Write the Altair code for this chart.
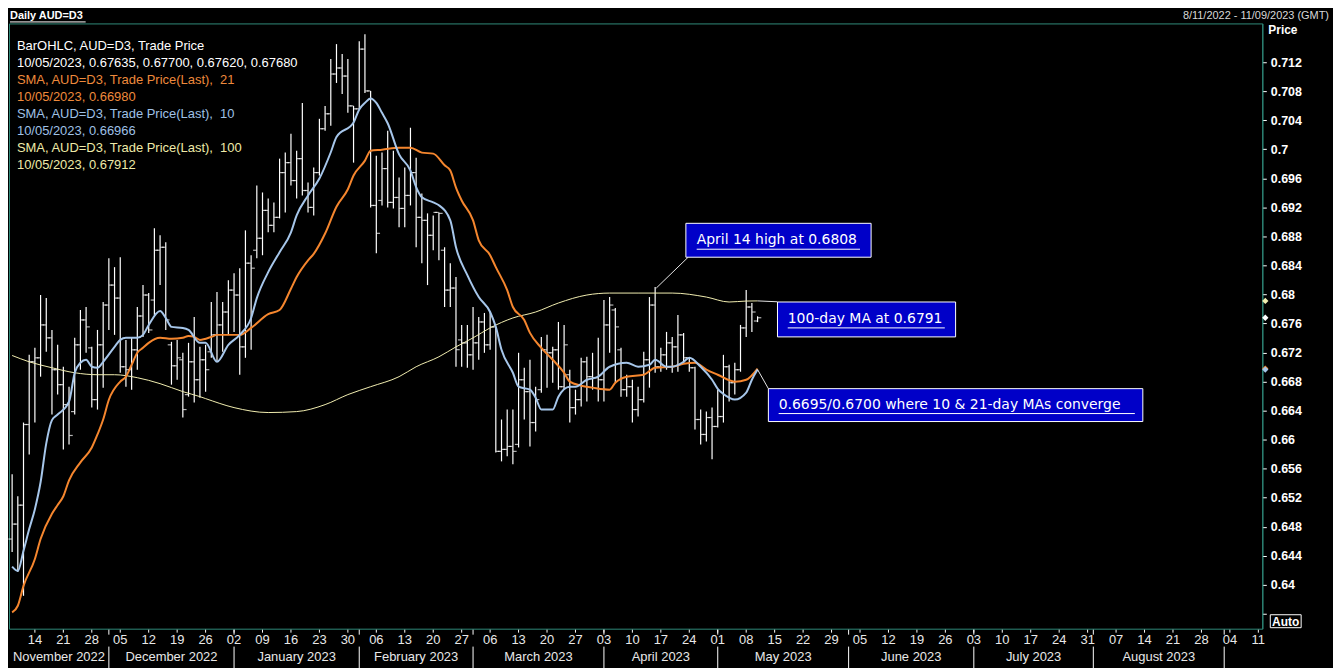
import altair as alt
import pandas as pd

# ---------------- data ----------------
FIRST_BAR_DAY = "2022-11-08"
LAST_AXIS_DAY = "2023-09-11"

bar_open = [0.64631, 0.64837, 0.65098, 0.66209, 0.67073, 0.67128, 0.67581, 0.67403, 0.66964, 0.66758,
            0.66483, 0.66387, 0.67307, 0.67650, 0.67265, 0.66552, 0.67307, 0.67855, 0.68130, 0.67951,
            0.67005, 0.66964, 0.67238, 0.67704, 0.67993, 0.67924, 0.68610, 0.68651, 0.67307, 0.67018,
            0.67101, 0.66621, 0.67073, 0.66826, 0.67101, 0.67211, 0.67444, 0.67581, 0.67759, 0.68061,
            0.67993, 0.67279, 0.68432, 0.68610, 0.68775, 0.69159, 0.68953, 0.69063, 0.69680, 0.69817,
            0.69570, 0.69872, 0.69433, 0.69200, 0.69680, 0.70284, 0.70490, 0.71038, 0.71121, 0.71010,
            0.70599, 0.70558, 0.71381, 0.70805, 0.69227, 0.69296, 0.69735, 0.69269, 0.69337, 0.69186,
            0.69365, 0.69680, 0.69063, 0.69022, 0.68816, 0.69131, 0.68610, 0.68061, 0.68089, 0.67375,
            0.67334, 0.67169, 0.67334, 0.67622, 0.67307, 0.67554, 0.65839, 0.65866, 0.65907, 0.65935,
            0.66826, 0.66662, 0.66236, 0.66689, 0.67238, 0.67197, 0.67238, 0.66730, 0.66895, 0.66442,
            0.66552, 0.67073, 0.66868, 0.66854, 0.66826, 0.67581, 0.67787, 0.67238, 0.66689, 0.66730,
            0.66415, 0.66552, 0.67101, 0.67855, 0.67005, 0.67169, 0.67334, 0.67279, 0.67444, 0.67128,
            0.66991, 0.66278, 0.66072, 0.66305, 0.66182, 0.66319, 0.67005, 0.66785, 0.66964, 0.67540,
            0.67828, 0.67635]
bar_high = [0.65523, 0.65221, 0.66236, 0.67169, 0.67265, 0.67993, 0.67951, 0.67512, 0.67307, 0.67005,
            0.66730, 0.67403, 0.67787, 0.67828, 0.67279, 0.67512, 0.67897, 0.68500, 0.68377, 0.68514,
            0.67375, 0.67416, 0.67828, 0.68130, 0.68020, 0.68912, 0.68816, 0.68720, 0.67348, 0.67375,
            0.67197, 0.67334, 0.67691, 0.67279, 0.67307, 0.67897, 0.68034, 0.67897, 0.68198, 0.68294,
            0.68363, 0.68884, 0.68541, 0.69502, 0.69406, 0.69323, 0.69269, 0.69872, 0.69955, 0.70215,
            0.69982, 0.70640, 0.69543, 0.69749, 0.70421, 0.70599, 0.71244, 0.71450, 0.71313, 0.71244,
            0.70599, 0.71491, 0.71587, 0.70805, 0.69913, 0.69955, 0.70256, 0.69982, 0.69612, 0.69749,
            0.70298, 0.69886, 0.69392, 0.69118, 0.69090, 0.69131, 0.68651, 0.68432, 0.68240, 0.67581,
            0.67581, 0.67828, 0.67691, 0.67746, 0.67759, 0.67554, 0.66278, 0.66415, 0.66415, 0.67197,
            0.66991, 0.67101, 0.66730, 0.67416, 0.67444, 0.67279, 0.67622, 0.67581, 0.66964, 0.66689,
            0.67128, 0.67142, 0.67197, 0.67403, 0.67924, 0.67965, 0.67814, 0.67265, 0.66895, 0.66826,
            0.66730, 0.67211, 0.67965, 0.68102, 0.67265, 0.67485, 0.67416, 0.67718, 0.67471, 0.67128,
            0.67005, 0.66415, 0.66387, 0.66442, 0.66689, 0.67169, 0.67032, 0.67060, 0.67581, 0.68061,
            0.67883, 0.67700]
bar_low = [0.64453, 0.64178, 0.63849, 0.65797, 0.66236, 0.66868, 0.67211, 0.66346, 0.66621, 0.65866,
           0.65935, 0.66346, 0.66964, 0.67197, 0.66442, 0.66415, 0.66717, 0.67512, 0.67444, 0.66922,
           0.66730, 0.66689, 0.66964, 0.67416, 0.67471, 0.67718, 0.68130, 0.67512, 0.66758, 0.66826,
           0.66305, 0.66593, 0.66511, 0.66579, 0.66662, 0.67128, 0.67073, 0.67211, 0.67444, 0.67485,
           0.66895, 0.67128, 0.67238, 0.68500, 0.68541, 0.68857, 0.68857, 0.69049, 0.69131, 0.69502,
           0.69323, 0.69365, 0.69131, 0.69090, 0.69639, 0.70256, 0.70325, 0.70915, 0.70764, 0.70503,
           0.69817, 0.70558, 0.70778, 0.69200, 0.68569, 0.69227, 0.69200, 0.69186, 0.68926, 0.68926,
           0.69227, 0.68651, 0.68432, 0.68130, 0.68610, 0.68473, 0.67828, 0.67828, 0.67005, 0.67005,
           0.66991, 0.66964, 0.67101, 0.67197, 0.67238, 0.65825, 0.65701, 0.65770, 0.65660, 0.65893,
           0.66278, 0.65907, 0.66113, 0.66648, 0.66717, 0.66785, 0.66689, 0.66689, 0.66236, 0.66346,
           0.66456, 0.66525, 0.66689, 0.66525, 0.66525, 0.67197, 0.66785, 0.66593, 0.66593, 0.66236,
           0.66319, 0.66511, 0.66717, 0.66922, 0.66936, 0.66964, 0.66922, 0.66936, 0.67060, 0.66936,
           0.66140, 0.65935, 0.65976, 0.65729, 0.66168, 0.66236, 0.66525, 0.66621, 0.66936, 0.67416,
           0.67485, 0.67620]
bar_close = [0.64837, 0.65098, 0.66209, 0.67073, 0.67128, 0.67581, 0.67403, 0.66964, 0.66758, 0.66483,
             0.66058, 0.67307, 0.67650, 0.67554, 0.66552, 0.67307, 0.67855, 0.68130, 0.67951, 0.67005,
             0.66964, 0.67238, 0.67704, 0.67993, 0.67512, 0.68610, 0.68651, 0.67650, 0.67018, 0.67128,
             0.66415, 0.67073, 0.66826, 0.67101, 0.66964, 0.67444, 0.67581, 0.67759, 0.68061, 0.67993,
             0.67279, 0.68432, 0.68363, 0.68775, 0.69159, 0.68953, 0.69063, 0.69680, 0.69817, 0.69570,
             0.69872, 0.69433, 0.69200, 0.69680, 0.70284, 0.70490, 0.71038, 0.71121, 0.71010, 0.70599,
             0.70558, 0.71381, 0.70805, 0.69227, 0.68843, 0.69735, 0.69269, 0.69337, 0.69186, 0.69365,
             0.69680, 0.69063, 0.69022, 0.68816, 0.69131, 0.69118, 0.68061, 0.68089, 0.67240, 0.67334,
             0.67169, 0.67334, 0.67622, 0.67307, 0.67554, 0.65839, 0.65866, 0.65907, 0.65839, 0.66826,
             0.66662, 0.66236, 0.66552, 0.67238, 0.67197, 0.67238, 0.66730, 0.67307, 0.66442, 0.66552,
             0.67073, 0.66868, 0.66854, 0.66826, 0.67581, 0.67855, 0.67554, 0.66689, 0.66730, 0.66415,
             0.66552, 0.67101, 0.67855, 0.67005, 0.67169, 0.67334, 0.67279, 0.67444, 0.67128, 0.66991,
             0.66278, 0.66072, 0.66305, 0.66182, 0.66319, 0.67005, 0.66785, 0.66964, 0.67540, 0.67828,
             0.67759, 0.67680]

# moving averages: (trading-day index, value)
sma10_points = [(0, 0.6425), (1, 0.64192), (2, 0.6447), (3, 0.64768), (4, 0.65043), (5, 0.65413),
                (6, 0.6595), (7, 0.6627), (8, 0.66346), (10, 0.66525), (11, 0.66922), (12, 0.6706),
                (13, 0.67101), (14, 0.67005), (15, 0.66991), (16, 0.67073), (18, 0.67279), (19, 0.67375),
                (20, 0.67403), (22, 0.67403), (23, 0.67444), (24, 0.67581), (26, 0.67773), (27, 0.67677),
                (28, 0.67554), (30, 0.6754), (31, 0.67512), (33, 0.67334), (34, 0.67334), (36, 0.67073),
                (38, 0.67307), (40, 0.67444), (42, 0.67677), (43, 0.67951), (45, 0.68308), (47, 0.68583),
                (49, 0.68857), (50, 0.6909), (52, 0.69365), (54, 0.69598), (56, 0.6996), (57, 0.7017),
                (60, 0.7037), (61, 0.7055), (62, 0.7064), (63, 0.7070), (64, 0.7064), (65, 0.70503),
                (66, 0.7036), (68, 0.6993), (70, 0.69708), (71, 0.6948), (72, 0.6934), (74, 0.6927),
                (75, 0.6923), (77, 0.69022), (78, 0.68651), (80, 0.68267), (82, 0.67965), (84, 0.67759),
                (85, 0.67554), (86, 0.67238), (88, 0.66922), (89, 0.6673), (91, 0.66689), (92, 0.66579),
                (93, 0.66415), (95, 0.66415), (96, 0.66593), (98, 0.6673), (99, 0.6673), (101, 0.66826),
                (103, 0.66868), (105, 0.67005), (108, 0.6706), (110, 0.67005), (112, 0.67032),
                (113, 0.67101), (115, 0.67005), (116, 0.67005), (118, 0.67073), (119, 0.67128),
                (121, 0.67005), (123, 0.66826), (124, 0.6670), (125, 0.6663), (126, 0.66579),
                (127, 0.66552), (129, 0.66648), (130, 0.66826), (131, 0.66966)]
sma21_points = [(0, 0.6362), (1, 0.63712), (2, 0.63986), (4, 0.64357), (5, 0.64631), (7, 0.6498),
                (8, 0.6510), (9, 0.65221), (10, 0.6544), (12, 0.65688), (14, 0.65893), (15, 0.66072),
                (16, 0.66278), (17, 0.6655), (19, 0.6680), (20, 0.66868), (21, 0.67032), (22, 0.67197),
                (23, 0.67265), (24, 0.67334), (26, 0.67403), (28, 0.67389), (30, 0.67403), (31, 0.6743),
                (32, 0.67416), (33, 0.67375), (35, 0.67416), (36, 0.67444), (40, 0.67444), (42, 0.6754),
                (45, 0.6773), (47, 0.67787), (49, 0.6808), (50, 0.6824), (52, 0.6847), (53, 0.6856),
                (55, 0.6884), (57, 0.6921), (59, 0.6945), (60, 0.69639), (62, 0.69845), (63, 0.69982),
                (65, 0.69996), (68, 0.70023), (70, 0.70023), (72, 0.69955), (74, 0.69941), (76, 0.6978),
                (77, 0.69708), (78, 0.69474), (79, 0.69296), (81, 0.69022), (82, 0.68747), (84, 0.68541),
                (85, 0.68377), (87, 0.6806), (88, 0.67828), (90, 0.6765), (91, 0.67471), (93, 0.67265),
                (95, 0.67101), (97, 0.66922), (98, 0.66799), (100, 0.66744), (102, 0.66717),
                (105, 0.66689), (106, 0.66785), (108, 0.66868), (111, 0.66895), (113, 0.66991),
                (116, 0.67005), (118, 0.67046), (120, 0.6706), (122, 0.66964), (124, 0.66895),
                (127, 0.66799), (129, 0.66826), (131, 0.6698)]
sma100_points = [(0, 0.6716), (3, 0.67073), (7, 0.66991), (11, 0.66922), (15, 0.66895), (18, 0.66895),
                 (22, 0.66854), (26, 0.66772), (30, 0.66662), (33, 0.66593), (34, 0.66566), (39, 0.66442),
                 (45, 0.66374), (50, 0.66387), (55, 0.66483), (59, 0.66621), (63, 0.6673), (68, 0.66868),
                 (71, 0.67005), (75, 0.67142), (78, 0.67279), (81, 0.67403), (84, 0.6754), (88, 0.67677),
                 (92, 0.67759), (96, 0.67883), (101, 0.67993), (105, 0.6802), (110, 0.6802),
                 (116, 0.6802), (122, 0.67965), (126, 0.67897), (129, 0.6791), (131, 0.67912)]

last_close = 0.67680
last_sma21 = 0.66980
last_sma10 = 0.66966
last_sma100 = 0.67912

NB = "\u00a0"
legend_lines = [
    "BarOHLC, AUD=D3, Trade Price",
    "10/05/2023, 0.67635, 0.67700, 0.67620, 0.67680",
    "SMA, AUD=D3, Trade Price(Last)," + NB + NB + "21",
    "10/05/2023, 0.66980",
    "SMA, AUD=D3, Trade Price(Last)," + NB + NB + "10",
    "10/05/2023, 0.66966",
    "SMA, AUD=D3, Trade Price(Last)," + NB + NB + "100",
    "10/05/2023, 0.67912",
]
legend_kinds = ["bar", "bar", "sma21", "sma21", "sma10", "sma10", "sma100", "sma100"]

# annotation boxes, in data units (trading-day index, price)
ann_text = ["April 14 high at 0.6808", "100-day MA at 0.6791",
            "0.6695/0.6700 where 10 & 21-day MAs converge" + NB]
ann_x1 = [118.4, 134.5, 132.9]
ann_x2 = [150.95, 165.8, 198.7]
ann_top = [0.68981, 0.67897, 0.66703]
ann_bottom = [0.68514, 0.67416, 0.66250]
ann_text_x = [120.3, 136.3, 134.7]
ann_text_y = [0.68747, 0.67663, 0.66483]
ann_uline_x2 = [149.0, 163.9, 197.3]
ann_uline_y = [0.68624, 0.67540, 0.66360]
# connector lines: from data point to box
conn_x1 = [113.2, 131.0, 131.0]
conn_y1 = [0.68089, 0.67912, 0.66966]
conn_x2 = [118.8, 134.5, 132.9]
conn_y2 = [0.68514, 0.67900, 0.66703]

y_tick_values = [0.636, 0.640, 0.644, 0.648, 0.652, 0.656, 0.660, 0.664, 0.668, 0.672,
                 0.676, 0.680, 0.684, 0.688, 0.692, 0.696, 0.700, 0.704, 0.708, 0.712]

# ---------------- styling ----------------
W, H = 1259, 608
X_DOMAIN = [-0.55, 219.7]
Y_DOMAIN = [0.63396, 0.71735]
TEAL = "#2f8a7a"
ORANGE = "#f5862e"
BLUE = "#a6c6ea"
YELLOW = "#f2eeb0"
BOXBLUE = "#0000c8"
colors = {"bar": "#ffffff", "sma21": "#ee8a3c", "sma10": "#9fc1e6", "sma100": "#eeeaa8"}
FONT = "Liberation Sans"

xs = alt.Scale(domain=X_DOMAIN, nice=False, zero=False)
ys = alt.Scale(domain=Y_DOMAIN, nice=False, zero=False)
yaxis = alt.Axis(orient="right", values=y_tick_values, grid=False, title=None,
                 labelExpr="datum.value < 0.638 ? '' : format(datum.value, '~g')",
                 domainColor=TEAL, domainWidth=1, tickColor="white", tickSize=4,
                 labelColor="white", labelFont=FONT, labelFontWeight="bold",
                 labelFontSize=12.5, labelPadding=4, labelOverlap=False, labelFlush=False)


def X(f):
    return alt.X(f, type="quantitative", scale=xs, axis=None)


def Y(f):
    return alt.Y(f, type="quantitative", scale=ys, axis=yaxis)


# ---------------- tables ----------------
n = len(bar_close)
bars = pd.DataFrame({"i": list(range(n)), "o": bar_open, "h": bar_high,
                     "l": bar_low, "c": bar_close})
days = pd.bdate_range(FIRST_BAR_DAY, LAST_AXIS_DAY)
cal = pd.DataFrame({"i": list(range(len(days))), "d": days})
mondays = cal[cal["d"].dt.weekday == 0].copy()
mondays["lab"] = mondays["d"].dt.strftime("%d")

month_first = cal.groupby([cal["d"].dt.year, cal["d"].dt.month]).first().reset_index(drop=True)
seps = month_first.iloc[1:][["i"]]
m_rows = []
for k in range(len(month_first)):
    s = X_DOMAIN[0] if k == 0 else month_first["i"].iloc[k]
    e = month_first["i"].iloc[k + 1] if k + 1 < len(month_first) else X_DOMAIN[1]
    if e - s > 12:
        m_rows.append({"c": (s + e) / 2, "lab": month_first["d"].iloc[k].strftime("%B %Y")})
months = pd.DataFrame(m_rows)

s10 = pd.DataFrame(sma10_points, columns=["i", "v"])
s21 = pd.DataFrame(sma21_points, columns=["i", "v"])
s100 = pd.DataFrame(sma100_points, columns=["i", "v"])
ann = pd.DataFrame({"t": ann_text, "x1": ann_x1, "x2": ann_x2, "yt": ann_top, "yb": ann_bottom,
                    "tx": ann_text_x, "ty": ann_text_y, "ux2": ann_uline_x2, "uy": ann_uline_y})
conn = pd.DataFrame({"x1": conn_x1, "y1": conn_y1, "x2": conn_x2, "y2": conn_y2})
marks = pd.DataFrame({"v": [last_sma100, last_close, last_sma21, last_sma10],
                      "c": [YELLOW, "#ffffff", ORANGE, BLUE]})
one = pd.DataFrame({"a": [0]})

# ---------------- layers ----------------
layers = []
layers.append(alt.Chart(bars).mark_rule(color="white", strokeWidth=1.2).encode(
    x=X("i"), y=Y("l"), y2="h"))
layers.append(alt.Chart(bars).mark_tick(orient="horizontal", color="white", size=3.5,
                                        thickness=1.2, xOffset=-2).encode(x=X("i"), y=Y("o")))
layers.append(alt.Chart(bars).mark_tick(orient="horizontal", color="white", size=3.5,
                                        thickness=1.2, xOffset=2).encode(x=X("i"), y=Y("c")))
layers.append(alt.Chart(s100).mark_line(color=YELLOW, strokeWidth=1, interpolate="monotone").encode(
    x=X("i"), y=Y("v")))
layers.append(alt.Chart(s21).mark_line(color=ORANGE, strokeWidth=2, interpolate="monotone").encode(
    x=X("i"), y=Y("v")))
layers.append(alt.Chart(s10).mark_line(color=BLUE, strokeWidth=2, interpolate="monotone").encode(
    x=X("i"), y=Y("v")))

# annotations
layers.append(alt.Chart(conn).mark_rule(color="#e6e6e6", strokeWidth=1).encode(
    x=X("x1"), y=Y("y1"), x2="x2", y2="y2"))
layers.append(alt.Chart(ann).mark_rect(fill=BOXBLUE, stroke="white", strokeWidth=1).encode(
    x=X("x1"), x2="x2", y=Y("yt"), y2="yb"))
layers.append(alt.Chart(ann).mark_text(align="left", baseline="middle", font="DejaVu Sans",
                                       fontSize=14, color="white").encode(
    x=X("tx"), y=Y("ty"), text="t:N"))
layers.append(alt.Chart(ann).mark_rule(color="white", strokeWidth=1).encode(
    x=X("tx"), x2="ux2", y=Y("uy")))

# last-value markers on the price axis
layers.append(alt.Chart(marks).mark_point(shape="diamond", filled=True, size=40, opacity=1).encode(
    x=alt.value(W + 3), y=Y("v"), color=alt.Color("c:N", scale=None)))

# legend text block
for k, (txt, kind) in enumerate(zip(legend_lines, legend_kinds)):
    layers.append(alt.Chart(pd.DataFrame({"t": [txt]})).mark_text(
        align="left", baseline="middle", font=FONT, fontSize=13, color=colors[kind]).encode(
        x=alt.value(8), y=alt.value(23 + 17 * k), text="t:N"))

# bottom time axis (trading-day spacing)
layers.append(alt.Chart(mondays).mark_rule(color="white").encode(
    x=X("i"), y=alt.value(H + 1), y2=alt.value(H + 4)))
layers.append(alt.Chart(mondays).mark_text(baseline="middle", align="center", font=FONT,
                                           fontSize=13, color="#e8e8e8").encode(
    x=X("i"), y=alt.value(H + 11), text="lab:N"))
layers.append(alt.Chart(seps).mark_rule(color="white").encode(
    x=X("i"), y=alt.value(H + 1), y2=alt.value(H + 6)))
layers.append(alt.Chart(seps).mark_rule(color="white").encode(
    x=X("i"), y=alt.value(H + 18), y2=alt.value(H + 45)))
layers.append(alt.Chart(months).mark_text(baseline="middle", align="center", font=FONT,
                                          fontSize=13, color="#e8e8e8").encode(
    x=X("c"), y=alt.value(H + 28), text="lab:N"))

# header texts
layers.append(alt.Chart(pd.DataFrame({"t": ["Daily AUD=D3"]})).mark_text(
    align="left", baseline="middle", font=FONT, fontSize=11, fontWeight="bold",
    color="white").encode(x=alt.value(1), y=alt.value(-7), text="t:N"))
layers.append(alt.Chart(one).mark_rule(color="white", strokeWidth=1).encode(
    x=alt.value(1), x2=alt.value(77), y=alt.value(-1.5)))
layers.append(alt.Chart(pd.DataFrame({"t": ["8/11/2022 - 11/09/2023 (GMT)"]})).mark_text(
    align="right", baseline="middle", font=FONT, fontSize=11, color="#d8d8d8").encode(
    x=alt.value(1326), y=alt.value(-7), text="t:N"))
layers.append(alt.Chart(pd.DataFrame({"t": ["Price"]})).mark_text(
    align="left", baseline="middle", font=FONT, fontSize=12, fontWeight="bold",
    color="white").encode(x=alt.value(W + 6), y=alt.value(7), text="t:N"))
layers.append(alt.Chart(one).mark_rect(fill="black", stroke="white", strokeWidth=1).encode(
    x=alt.value(W + 8), x2=alt.value(W + 39), y=alt.value(594), y2=alt.value(607)))
layers.append(alt.Chart(pd.DataFrame({"t": ["Auto"]})).mark_text(
    align="center", baseline="middle", font=FONT, fontSize=12, fontWeight="bold",
    color="white").encode(x=alt.value(W + 23.5), y=alt.value(601), text="t:N"))

chart = alt.layer(*layers).properties(
    width=W, height=H,
    padding={"left": 1, "top": 14, "right": 71, "bottom": 38},
    autosize=alt.AutoSizeParams(type="none"),
    background="black",
).configure_view(stroke=TEAL, strokeWidth=1)

chart.save("out.html", embed_options={"renderer": "svg", "actions": False})
